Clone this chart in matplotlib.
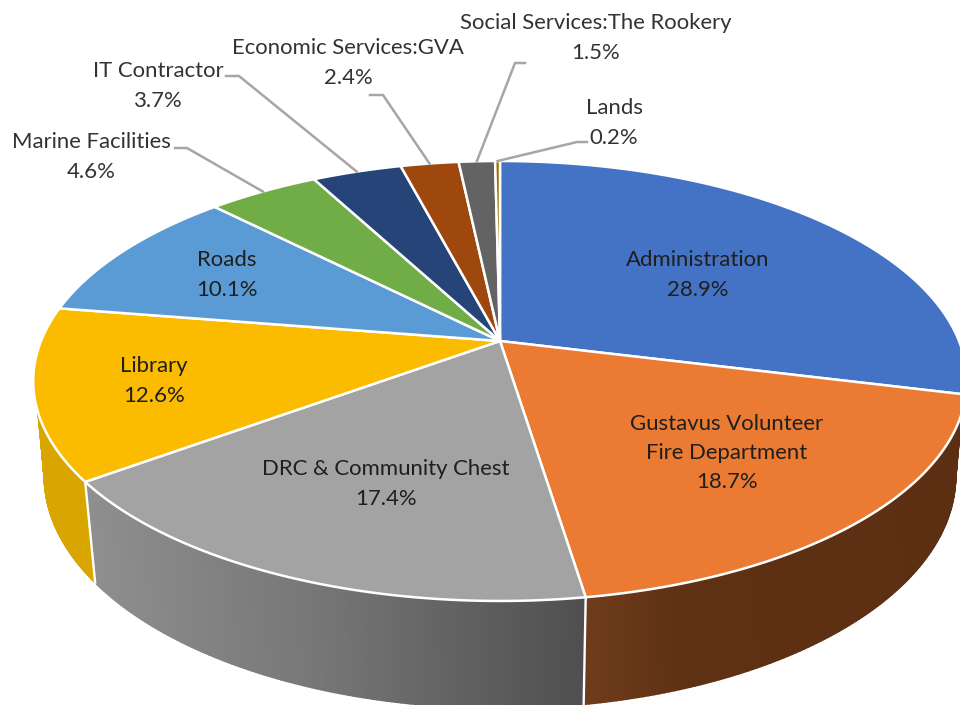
import numpy as np
import matplotlib
matplotlib.use("Agg")
from matplotlib import pyplot as plt
from matplotlib.collections import PolyCollection
from matplotlib.colors import to_rgb

plt.rcParams['font.family'] = ['Lato', 'DejaVu Sans']

names = ["Administration", "Gustavus Volunteer\nFire Department", "DRC & Community Chest",
         "Library", "Roads", "Marine Facilities", "IT Contractor",
         "Economic Services:GVA", "Social Services:The Rookery", "Lands"]
values = [28.9, 18.7, 17.4, 12.6, 10.1, 4.6, 3.7, 2.4, 1.5, 0.2]
colors = ["#4472C4", "#EB7B32", "#A3A3A3", "#FBBC00", "#5B9BD5",
          "#70AD47", "#264478", "#9E480E", "#636363", "#997300"]
text_colors = ["#1F1F1F"] * 5 + ["#333333"] * 5

# label centres in pixels
label_pos = [(698, 275), (727, 453), (386, 484), (154, 381), (227, 275),
             (91, 157), (158, 86), (348, 63), (596, 38), (614, 123)]
# leader start and elbow in pixels, None when the label sits on the slice
leaders = [None, None, None, None, None,
           ((175, 148), (187, 148)), ((226, 76), (239, 76)), ((370, 95), (383, 95)),
           ((525, 63), (515, 63)), ((587, 142), (577, 142))]

# perspective of the disc
CX, CY = 500, 341
A, B, K = 459, 212.7, 0.1818
SHRINK, STRETCH, DROP = 0.976, 1.055, 93


def rim(deg):
    t = np.radians(deg)
    u, v = np.sin(t), np.cos(t)
    d = 1 + K * v
    return CX + A * u / d, CY - B * v / d


def lower_rim(deg):
    x, y = rim(deg)
    return CX + SHRINK * (x - CX), CY + DROP + STRETCH * (y - CY)


def side(ax, top_a, top_b, low_a, low_b, stops):
    n = 120
    tops = np.linspace(top_a, top_b, n + 1)
    lows = np.linspace(low_a, low_b, n + 1)
    polys = []
    cols = []
    xs = [s[0] for s in stops]
    rgb = np.array([to_rgb(s[1]) for s in stops])
    for i in range(n):
        x0, y0 = rim(tops[i])
        x1, y1 = rim(tops[i + 1])
        x2, y2 = lower_rim(lows[i + 1])
        x3, y3 = lower_rim(lows[i])
        polys.append([(x0, y0), (x1, y1), (x2, y2), (x3, y3)])
        xm = (x0 + x1) / 2
        cols.append([np.interp(xm, xs, rgb[:, c]) for c in range(3)])
    ax.add_collection(PolyCollection(polys, facecolors=cols, edgecolors=cols, linewidths=1.2, zorder=1))


fig = plt.figure(figsize=(9.6, 7.05), dpi=100)
ax = fig.add_axes([0, 0, 1, 1])
ax.set_xlim(0, 960)
ax.set_ylim(705, 0)
ax.axis('off')

shares = np.array(values) / sum(values)
edges = np.concatenate([[0], np.cumsum(shares)]) * 360

# visible walls of the three front slices
side(ax, 108.4, edges[2], 100.4, edges[2], [(590, "#6E3C1A"), (680, "#5E3114"), (960, "#5C2F12")])
side(ax, edges[2], edges[3], edges[2], edges[3], [(85, "#8F8F8F"), (320, "#767676"), (585, "#4F4F4F")])
side(ax, edges[3], 251.6, edges[3], 259.6, [(36, "#D9A500"), (94, "#D9A500")])

for deg in edges[2:4]:
    x0, y0 = rim(deg)
    x1, y1 = lower_rim(deg)
    ax.plot([x0, x1], [y0, y1], color="white", lw=1.7, zorder=2)

for i, c in enumerate(colors):
    arc = np.linspace(edges[i], edges[i + 1], 150)
    x, y = rim(arc)
    ax.fill(np.r_[CX, x], np.r_[CY, y], facecolor=c, edgecolor="white", lw=1.8, joinstyle='round', zorder=3)

for i, name in enumerate(names):
    if leaders[i] is not None:
        a, b = leaders[i]
        end = rim((edges[i] + edges[i + 1]) / 2)
        ax.plot([a[0], b[0], end[0]], [a[1], b[1], end[1]], color="#A6A6A6", lw=1.8, zorder=4)
    ax.text(label_pos[i][0], label_pos[i][1], "%s\n%.1f%%" % (name, values[i]), ha='center', va='center',
            fontsize=15.9, color=text_colors[i], linespacing=1.59, zorder=5)

fig.savefig("out.png", dpi=100)
